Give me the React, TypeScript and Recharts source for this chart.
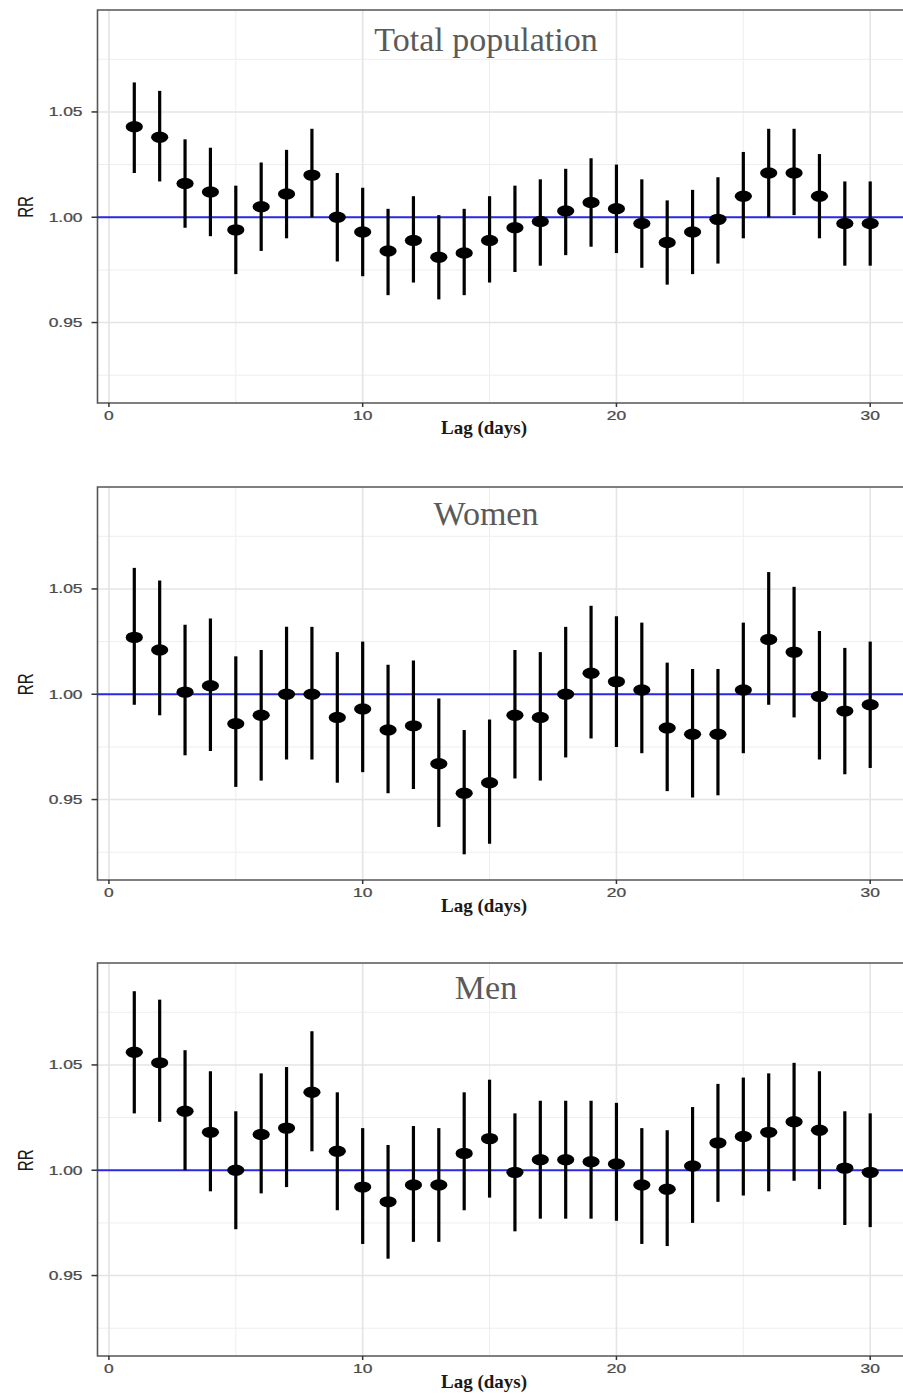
import {
  ComposedChart,
  Scatter,
  ErrorBar,
  XAxis,
  YAxis,
  CartesianGrid,
  ReferenceLine,
  ReferenceArea,
} from "recharts"

// ============================================================
// Data
// ============================================================

const lags = [1, 2, 3, 4, 5, 6, 7, 8, 9, 10, 11, 12, 13, 14, 15, 16, 17, 18, 19, 20, 21, 22, 23, 24, 25, 26, 27, 28, 29, 30]

const totalRR = [1.043, 1.038, 1.016, 1.012, 0.994, 1.005, 1.011, 1.020, 1.000, 0.993, 0.984, 0.989, 0.981, 0.983, 0.989, 0.995, 0.998, 1.003, 1.007, 1.004, 0.997, 0.988, 0.993, 0.999, 1.010, 1.021, 1.021, 1.010, 0.997, 0.997]
const totalLo = [1.021, 1.017, 0.995, 0.991, 0.973, 0.984, 0.990, 1.000, 0.979, 0.972, 0.963, 0.969, 0.961, 0.963, 0.969, 0.974, 0.977, 0.982, 0.986, 0.983, 0.976, 0.968, 0.973, 0.978, 0.990, 1.000, 1.001, 0.990, 0.977, 0.977]
const totalHi = [1.064, 1.060, 1.037, 1.033, 1.015, 1.026, 1.032, 1.042, 1.021, 1.014, 1.004, 1.010, 1.001, 1.004, 1.010, 1.015, 1.018, 1.023, 1.028, 1.025, 1.018, 1.008, 1.013, 1.019, 1.031, 1.042, 1.042, 1.030, 1.017, 1.017]

const womenRR = [1.027, 1.021, 1.001, 1.004, 0.986, 0.990, 1.000, 1.000, 0.989, 0.993, 0.983, 0.985, 0.967, 0.953, 0.958, 0.990, 0.989, 1.000, 1.010, 1.006, 1.002, 0.984, 0.981, 0.981, 1.002, 1.026, 1.020, 0.999, 0.992, 0.995]
const womenLo = [0.995, 0.990, 0.971, 0.973, 0.956, 0.959, 0.969, 0.969, 0.958, 0.963, 0.953, 0.955, 0.937, 0.924, 0.929, 0.960, 0.959, 0.970, 0.979, 0.975, 0.972, 0.954, 0.951, 0.952, 0.972, 0.995, 0.989, 0.969, 0.962, 0.965]
const womenHi = [1.060, 1.054, 1.033, 1.036, 1.018, 1.021, 1.032, 1.032, 1.020, 1.025, 1.014, 1.016, 0.998, 0.983, 0.988, 1.021, 1.020, 1.032, 1.042, 1.037, 1.034, 1.015, 1.012, 1.012, 1.034, 1.058, 1.051, 1.030, 1.022, 1.025]

const menRR = [1.056, 1.051, 1.028, 1.018, 1.000, 1.017, 1.020, 1.037, 1.009, 0.992, 0.985, 0.993, 0.993, 1.008, 1.015, 0.999, 1.005, 1.005, 1.004, 1.003, 0.993, 0.991, 1.002, 1.013, 1.016, 1.018, 1.023, 1.019, 1.001, 0.999]
const menLo = [1.027, 1.023, 1.000, 0.990, 0.972, 0.989, 0.992, 1.009, 0.981, 0.965, 0.958, 0.966, 0.966, 0.981, 0.987, 0.971, 0.977, 0.977, 0.977, 0.976, 0.965, 0.964, 0.975, 0.985, 0.988, 0.990, 0.995, 0.991, 0.974, 0.973]
const menHi = [1.085, 1.081, 1.057, 1.047, 1.028, 1.046, 1.049, 1.066, 1.037, 1.020, 1.012, 1.021, 1.020, 1.037, 1.043, 1.027, 1.033, 1.033, 1.033, 1.032, 1.020, 1.019, 1.030, 1.041, 1.044, 1.046, 1.051, 1.047, 1.028, 1.027]

const xTicks = [0, 10, 20, 30]
const xMinor = [5, 15, 25]
const yTicks = [0.95, 1.0, 1.05]
const yMinor = [0.925, 0.975, 1.025, 1.075]

const X_DOMAIN: [number, number] = [-0.45, 31.45]
const Y_DOMAIN: [number, number] = [0.9118, 1.0984]

// ============================================================
// Layout
// ============================================================

const CHART_W = 910
const CHART_H = 437
const PLOT_TOP = 10

const panels = [
  { title: "Total population", top: 0, titleY: 51, rr: totalRR, lo: totalLo, hi: totalHi },
  { title: "Women", top: 477.3, titleY: 525, rr: womenRR, lo: womenLo, hi: womenHi },
  { title: "Men", top: 953.3, titleY: 999.3, rr: menRR, lo: menLo, hi: menHi },
]

// ============================================================
// Custom pieces
// ============================================================

const tickColor = "#4a4a4a"
const tickFont = "'Liberation Sans', Arial, sans-serif"

function YTick(props: any) {
  const { x, y, payload } = props
  return (
    <text
      transform={`translate(${x},${y}) scale(1.45,1)`}
      textAnchor="end"
      dy="0.36em"
      fontSize={12}
      fontFamily={tickFont}
      fill={tickColor}
      stroke={tickColor}
      strokeWidth={0.25}
    >
      {Number(payload.value).toFixed(2)}
    </text>
  )
}

function XTick(props: any) {
  const { x, y, payload } = props
  return (
    <text
      transform={`translate(${x},${y}) scale(1.45,1)`}
      textAnchor="middle"
      dy="0.71em"
      fontSize={12}
      fontFamily={tickFont}
      fill={tickColor}
      stroke={tickColor}
      strokeWidth={0.25}
    >
      {payload.value}
    </text>
  )
}

function Dot(props: any) {
  const { cx, cy } = props
  if (cx == null || cy == null) return null
  return <ellipse cx={cx} cy={cy} rx={8.6} ry={5.7} fill="#000" />
}

function Panel({ rr, lo, hi }: { rr: number[]; lo: number[]; hi: number[] }) {
  const rows = lags.map((lag, i) => ({
    lag,
    rr: rr[i],
    err: [rr[i] - lo[i], hi[i] - rr[i]],
  }))

  return (
    <ComposedChart
      width={CHART_W}
      height={CHART_H}
      margin={{ top: PLOT_TOP, right: 3, left: 0, bottom: 4 }}
      data={rows}
    >
      <CartesianGrid
        stroke="#eeeeee"
        strokeWidth={1}
        horizontalValues={yMinor}
        verticalValues={xMinor}
      />
      <CartesianGrid
        stroke="#e4e4e4"
        strokeWidth={1.6}
        horizontalValues={yTicks}
        verticalValues={xTicks}
      />
      <XAxis
        type="number"
        dataKey="lag"
        domain={X_DOMAIN}
        ticks={xTicks}
        allowDataOverflow
        axisLine={false}
        tickLine={{ stroke: "#333", strokeWidth: 1.5 }}
        tickSize={4}
        tickMargin={4}
        tick={<XTick />}
        height={30}
      />
      <YAxis
        type="number"
        domain={Y_DOMAIN}
        ticks={yTicks}
        allowDataOverflow
        axisLine={false}
        tickLine={{ stroke: "#333", strokeWidth: 1.5 }}
        tickSize={6}
        tickMargin={9}
        tick={<YTick />}
        width={97.5}
      />
      <ReferenceArea
        x1={X_DOMAIN[0]}
        x2={X_DOMAIN[1]}
        y1={Y_DOMAIN[0]}
        y2={Y_DOMAIN[1]}
        fill="none"
        fillOpacity={0}
        stroke="#555"
        strokeWidth={1.6}
        ifOverflow="visible"
      />
      <ReferenceLine y={1} stroke="#2a2ae6" strokeWidth={2} />
      <Scatter dataKey="rr" shape={<Dot />} isAnimationActive={false}>
        <ErrorBar dataKey="err" direction="y" width={0} stroke="#000" strokeWidth={3.2} isAnimationActive={false} />
      </Scatter>
    </ComposedChart>
  )
}

// ============================================================
// App
// ============================================================

export default function App() {
  return (
    <div
      style={{
        position: "absolute",
        left: 0,
        top: 0,
        width: 903,
        height: 1394,
        overflow: "hidden",
        background: "#fff",
      }}
    >
      {panels.map((p) => (
        <div key={p.title} style={{ position: "absolute", left: 0, top: p.top }}>
          <Panel rr={p.rr} lo={p.lo} hi={p.hi} />
        </div>
      ))}

      {/* titles, axis labels */}
      <svg
        width={903}
        height={1394}
        style={{ position: "absolute", left: 0, top: 0, pointerEvents: "none" }}
      >
        {panels.map((p) => (
          <g key={p.title}>
            <text
              x={486}
              y={p.titleY}
              textAnchor="middle"
              fontSize={34}
              fontFamily="'Liberation Serif', 'Times New Roman', serif"
              fill="#5a5a5a"
            >
              {p.title}
            </text>
            <text
              x={484}
              y={p.top + PLOT_TOP + 393 + 31.3}
              textAnchor="middle"
              fontSize={19}
              fontWeight="bold"
              fontFamily="'Liberation Serif', 'Times New Roman', serif"
              fill="#1a1a1a"
            >
              Lag (days)
            </text>
            <text
              transform={`translate(25.5,${p.top + 207}) scale(1.45,1) rotate(-90)`}
              textAnchor="middle"
              dy="0.36em"
              fontSize={15}
              fontFamily={tickFont}
              fill="#1a1a1a"
            >
              RR
            </text>
          </g>
        ))}
      </svg>
    </div>
  )
}
